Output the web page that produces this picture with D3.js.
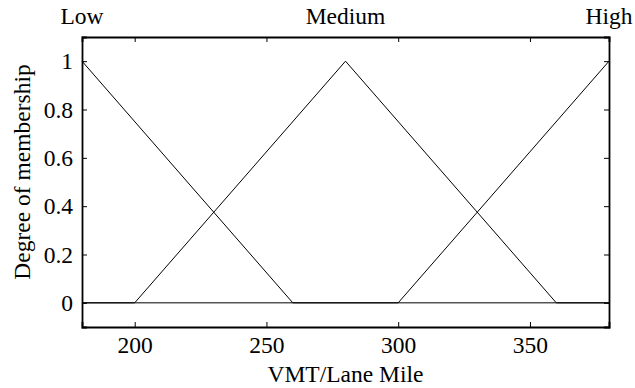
<!DOCTYPE html>
<html>
<head>
<meta charset="utf-8">
<script src="https://cdn.jsdelivr.net/npm/d3@7"></script>
<style>
  body { margin: 0; background: #fff; }
  svg text { font-family: "Liberation Serif", "Times New Roman", serif; fill: #000; }
</style>
</head>
<body>
<svg id="chart" width="635" height="388"></svg>
<script>
// membership functions (x, degree)
const lowX = [180, 260, 380];
const lowY = [1, 0, 0];
const medX = [180, 200, 280, 360, 380];
const medY = [0, 0, 1, 0, 0];
const highX = [180, 300, 380];
const highY = [0, 0, 1];

const xTicks = [200, 250, 300, 350];
const yTicks = [0, 0.2, 0.4, 0.6, 0.8, 1];
const mfNames = ['Low', 'Medium', 'High'];
const mfPeaks = [180, 280, 380];

const margin = {left: 82, right: 26, top: 37, bottom: 61};
const width = 635, height = 388;
const fontSize = '23.5px';

const svg = d3.select('#chart');

const x = d3.scaleLinear().domain([180, 380]).range([margin.left, width - margin.right]);
const y = d3.scaleLinear().domain([-0.1, 1.1]).range([height - margin.bottom, margin.top]);

const tickLen = 5;

// bottom axis, ticks pointing inward
const xAxis = svg.append('g')
  .attr('transform', 'translate(0,' + y(-0.1) + ')')
  .call(d3.axisBottom(x).tickValues(xTicks).tickSize(-tickLen).tickPadding(9).tickFormat(d3.format('d')));
xAxis.selectAll('text').style('font-size', fontSize);

// top axis, no labels
svg.append('g')
  .attr('transform', 'translate(0,' + y(1.1) + ')')
  .call(d3.axisTop(x).tickValues(xTicks).tickSize(-tickLen).tickFormat(''));

// left axis
const yAxis = svg.append('g')
  .attr('transform', 'translate(' + x(180) + ',0)')
  .call(d3.axisLeft(y).tickValues(yTicks).tickSize(-tickLen).tickPadding(9).tickFormat(d3.format('~g')));
yAxis.selectAll('text').style('font-size', fontSize);

// right axis
svg.append('g')
  .attr('transform', 'translate(' + x(380) + ',0)')
  .call(d3.axisRight(y).tickValues(yTicks).tickSize(-tickLen).tickFormat(''));

svg.selectAll('.domain').attr('stroke', '#000').attr('stroke-width', 1.8);
svg.selectAll('.tick line').attr('stroke', '#000');

// membership lines
const series = [
  lowX.map((v, i) => [v, lowY[i]]),
  medX.map((v, i) => [v, medY[i]]),
  highX.map((v, i) => [v, highY[i]])
];
const line = d3.line().x(d => x(d[0])).y(d => y(d[1]));
svg.append('g')
  .selectAll('path')
  .data(series)
  .enter()
  .append('path')
  .attr('d', line)
  .attr('fill', 'none')
  .attr('stroke', '#000')
  .attr('stroke-width', 1);

// mf names above plot
svg.append('g')
  .selectAll('text')
  .data(mfNames)
  .enter()
  .append('text')
  .attr('x', (d, i) => x(mfPeaks[i]))
  .attr('y', 24)
  .attr('text-anchor', 'middle')
  .style('font-size', fontSize)
  .text(d => d);

// axis titles
svg.append('text')
  .attr('x', x(280))
  .attr('y', 382)
  .attr('text-anchor', 'middle')
  .style('font-size', fontSize)
  .text('VMT/Lane Mile');

svg.append('text')
  .attr('transform', 'translate(30,172) rotate(-90)')
  .attr('text-anchor', 'middle')
  .style('font-size', fontSize)
  .text('Degree of membership');
</script>
</body>
</html>
